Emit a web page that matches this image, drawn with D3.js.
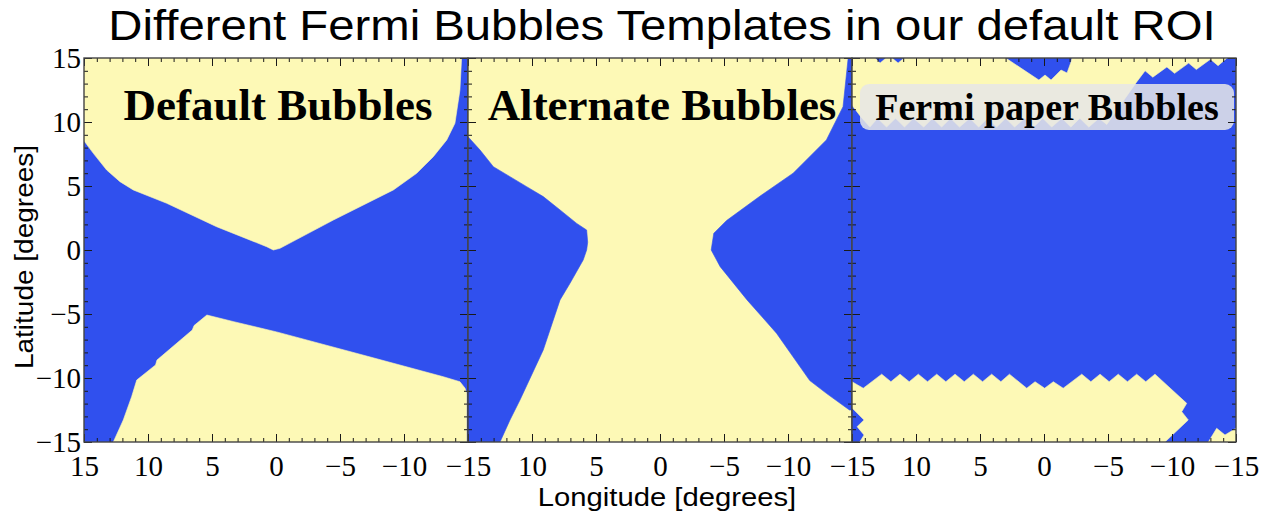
<!DOCTYPE html>
<html>
<head>
<meta charset="utf-8">
<script src="https://cdn.jsdelivr.net/npm/d3@7"></script>
<style>
  html, body { margin: 0; padding: 0; background: #ffffff; }
  svg { display: block; }
</style>
</head>
<body>
<svg id="chart" width="1278" height="518"></svg>
<script>
// ---------- data (degrees: [longitude, latitude]) ----------
const chartTitle = "Different Fermi Bubbles Templates in our default ROI";
const xAxisTitle = "Longitude [degrees]";
const yAxisTitle = "Latitude [degrees]";
const panelNames = ["Default Bubbles", "Alternate Bubbles", "Fermi paper Bubbles"];
const lonTicks = [15, 10, 5, 0, -5, -10, -15];
const latTicks = [-15, -10, -5, 0, 5, 10, 15];
const minorTicks = d3.range(-15, 16, 1);

// Panel 1 (Default): yellow regions on blue
const defaultNorth = [
  [15, 15], [15.05, 8.6], [14.27, 7.55], [13.23, 6.25], [12.19, 5.34], [11.15, 4.69],
  [8.54, 3.65], [4.64, 1.82], [0.73, 0.26], [0.21, 0], [-0.31, 0.13], [-4.48, 2.34],
  [-9.17, 4.69], [-10.99, 5.99], [-12.29, 7.29], [-13.34, 8.6], [-13.98, 9.9],
  [-14.37, 12.5], [-14.5, 15]
];
const defaultSouth = [
  [12.71, -15], [11.93, -13.28], [11.28, -11.46], [10.88, -10.16], [9.41, -8.98],
  [9.3, -8.6], [6.54, -6.25], [6.4, -5.9], [5.4, -5.08], [3.3, -5.6], [-0.05, -6.4],
  [-7.14, -8.3], [-13.07, -9.9], [-14.37, -10.29], [-14.77, -10.8], [-14.9, -11.2],
  [-14.9, -15]
];
// Panel 2 (Alternate): blue regions on yellow
const alternateEast = [
  [15, 8.85], [14.06, 7.81], [13.02, 6.51], [11.72, 5.73], [10.42, 4.95], [9.12, 4.17],
  [7.81, 3.13], [6.51, 2.08], [5.73, 1.56], [5.65, 0.6], [5.73, 0], [6.0, -0.78],
  [7.03, -2.6], [7.81, -3.9], [9.12, -7.81], [10.94, -11.72], [11.72, -13.28],
  [12.5, -15], [15, -15]
];
const alternateWest = [
  [-14.7, 15], [-14.3, 11.2], [-13.0, 8.6], [-10.4, 6.0], [-7.8, 4.2], [-5.2, 2.3],
  [-4.2, 1.3], [-4.0, 0], [-4.7, -1.3], [-6.8, -3.9], [-9.1, -6.5], [-11.7, -10.2],
  [-13.0, -11.2], [-14.8, -12.5], [-15, -12.5], [-15, 15]
];
// Panel 3 (Fermi paper): yellow regions on blue
const fermiNorth = [
  [15, 15], [13.2, 15], [12.81, 14.6], [12.34, 15], [11.87, 15], [11.4, 14.6], [10.93, 15],
  [2.99, 15], [0.4, 13.28], [-0.08, 13.67], [-0.55, 13.28], [-1.33, 14.06],
  [-1.8, 13.83], [-2.11, 14.69], [-2.19, 15],
  [-14.3, 15], [-13.6, 14.4], [-13.0, 14.9], [-11.9, 14.1], [-11.3, 14.6],
  [-10.2, 13.8], [-9.6, 14.3], [-8.5, 13.5], [-7.9, 14.0], [-7.24, 13.13],
  [-4.9, 9.8], [-4.3, 10.3], [-3.5, 9.6], [-2.8, 10.3], [-2.1, 9.6], [-1.4, 10.3],
  [-0.6, 9.6], [0.1, 10.3], [0.8, 9.6], [1.5, 10.3], [2.3, 9.6], [3.0, 10.3],
  [3.7, 9.6], [4.4, 10.3], [5.1, 9.6], [5.8, 10.3], [6.6, 9.6], [7.3, 10.3],
  [8.0, 9.6], [8.7, 10.3], [9.4, 9.6], [10.2, 10.3], [10.9, 9.6], [11.6, 10.3],
  [12.3, 9.6], [13.0, 10.3], [13.6, 9.6], [14.3, 10.4], [15, 11.3]
];
const fermiSouth = [
  [14.4, -15], [14.06, -14.45], [14.6, -13.8], [14.06, -13.28], [15, -12.34],
  [15, -10.29], [14.12, -10.8], [12.68, -9.7], [11.96, -10.29], [11.25, -9.7],
  [10.53, -10.29], [9.82, -9.7], [9.1, -10.29], [8.38, -9.7], [7.67, -10.29],
  [6.95, -9.7], [6.23, -10.29], [5.52, -9.7], [4.8, -10.29], [4.09, -9.7],
  [3.37, -10.29], [2.7, -9.7], [1.35, -10.8], [0.7, -10.29], [-0.05, -10.8],
  [-0.73, -10.29], [-1.5, -10.8], [-2.95, -9.7], [-3.66, -10.29], [-4.38, -9.7],
  [-5.09, -10.29], [-5.8, -9.7], [-6.52, -10.29], [-7.24, -9.7], [-7.95, -10.29],
  [-8.67, -9.7], [-11.15, -11.98], [-10.76, -12.63], [-11.27, -13.28], [-9.45, -15]
];
const fermiSouthCorner = [
  [-12.84, -15], [-13.49, -13.93], [-14.14, -14.45], [-15, -13.93], [-15, -15]
];

// ---------- styling ----------
const BLUE = "#3050ee";
const YELLOW = "#fdf9b6";
const panelW = 384, panelH = 384;
const panelTop = 58;
const lefts = [84, 468, 852];
const SANS = "'Liberation Sans', Arial, Helvetica, sans-serif";
const SERIF = "'Liberation Serif', 'Times New Roman', serif";

const panels = [
  { name: panelNames[0], bg: BLUE, regions: [{ pts: defaultNorth, fill: YELLOW }, { pts: defaultSouth, fill: YELLOW }], size: 45, box: false },
  { name: panelNames[1], bg: YELLOW, regions: [{ pts: alternateEast, fill: BLUE }, { pts: alternateWest, fill: BLUE }], size: 45, box: false },
  { name: panelNames[2], bg: BLUE, regions: [{ pts: fermiNorth, fill: YELLOW }, { pts: fermiSouth, fill: YELLOW }, { pts: fermiSouthCorner, fill: YELLOW }], size: 38, box: true }
];

const svg = d3.select("#chart");
const fmt = d => d < 0 ? "\u2212" + Math.abs(d) : String(d);

// Title (reference text is slightly wide-set)
svg.append("text")
  .attr("transform", "translate(662,40) scale(1.1,1)")
  .attr("text-anchor", "middle")
  .style("font-family", SANS)
  .style("font-size", "43px")
  .attr("fill", "#000")
  .text(chartTitle);

// Axis titles
svg.append("text")
  .attr("transform", "translate(667,506) scale(1.17,1)")
  .attr("text-anchor", "middle")
  .style("font-family", SANS)
  .style("font-size", "25px")
  .text(xAxisTitle);

svg.append("text")
  .attr("transform", "translate(33,257) rotate(-90) scale(1.12,1)")
  .attr("text-anchor", "middle")
  .style("font-family", SANS)
  .style("font-size", "25px")
  .text(yAxisTitle);

const defs = svg.append("defs");

panels.forEach((p, i) => {
  const x0 = lefts[i];
  const x = d3.scaleLinear().domain([15, -15]).range([x0, x0 + panelW]);
  const y = d3.scaleLinear().domain([-15, 15]).range([panelTop + panelH, panelTop]);

  defs.append("clipPath").attr("id", "clip" + i)
    .append("rect").attr("x", x0).attr("y", panelTop).attr("width", panelW).attr("height", panelH);

  const g = svg.append("g");
  const inner = g.append("g").attr("clip-path", `url(#clip${i})`);
  inner.append("rect")
    .attr("x", x(15)).attr("y", y(15))
    .attr("width", x(-15) - x(15)).attr("height", y(-15) - y(15))
    .attr("fill", p.bg);

  const line = d3.line().x(d => x(d[0])).y(d => y(d[1])).curve(d3.curveLinearClosed);
  p.regions.forEach(r => {
    inner.append("path").attr("d", line(r.pts)).attr("fill", r.fill).attr("stroke", r.fill).attr("stroke-width", 0.6);
  });

  // label
  if (p.box) {
    inner.append("rect")
      .attr("x", x0 + 8).attr("y", 84)
      .attr("width", 374).attr("height", 46)
      .attr("rx", 9).attr("ry", 9)
      .attr("fill", "#e6e6e6").attr("fill-opacity", 0.86);
  }
  inner.append("text")
    .attr("x", x0 + panelW / 2 + (p.box ? 3 : 2))
    .attr("y", 120)
    .attr("text-anchor", "middle")
    .style("font-family", SERIF)
    .style("font-weight", "bold")
    .style("font-size", p.size + "px")
    .attr("fill", "#000")
    .text(p.name);

  // ticks (inward on all sides)
  const tickStyle = sel => {
    sel.select(".domain").remove();
    sel.selectAll("line").attr("stroke", "#1a1a1a").attr("stroke-width", 1);
  };
  // minor
  g.append("g").attr("transform", `translate(0,${y(-15)})`)
    .call(d3.axisBottom(x).tickValues(minorTicks).tickSize(-4).tickFormat("")).call(tickStyle);
  g.append("g").attr("transform", `translate(0,${y(15)})`)
    .call(d3.axisTop(x).tickValues(minorTicks).tickSize(-4).tickFormat("")).call(tickStyle);
  g.append("g").attr("transform", `translate(${x(15)},0)`)
    .call(d3.axisLeft(y).tickValues(minorTicks).tickSize(-4).tickFormat("")).call(tickStyle);
  g.append("g").attr("transform", `translate(${x(-15)},0)`)
    .call(d3.axisRight(y).tickValues(minorTicks).tickSize(-4).tickFormat("")).call(tickStyle);
  // major with labels
  const bottomVals = i === 0 ? lonTicks : lonTicks.filter(v => v !== 15);
  const bAx = g.append("g").attr("transform", `translate(0,${y(-15)})`)
    .call(d3.axisBottom(x).tickValues(lonTicks).tickSize(-8).tickPadding(13)
      .tickFormat(d => bottomVals.includes(d) ? fmt(d) : ""));
  bAx.call(tickStyle);
  bAx.selectAll("text")
    .style("font-family", SERIF)
    .style("font-size", "29px").attr("fill", "#000");
  g.append("g").attr("transform", `translate(0,${y(15)})`)
    .call(d3.axisTop(x).tickValues(lonTicks).tickSize(-8).tickFormat("")).call(tickStyle);
  const lAx = g.append("g").attr("transform", `translate(${x(15)},0)`)
    .call(d3.axisLeft(y).tickValues(latTicks).tickSize(-8).tickPadding(3)
      .tickFormat(d => i === 0 ? fmt(d) : ""));
  lAx.call(tickStyle);
  lAx.selectAll("text")
    .style("font-family", SERIF)
    .style("font-size", "29px").attr("fill", "#000");
  g.append("g").attr("transform", `translate(${x(-15)},0)`)
    .call(d3.axisRight(y).tickValues(latTicks).tickSize(-8).tickFormat("")).call(tickStyle);

  // frame
  g.append("rect")
    .attr("x", x0).attr("y", panelTop).attr("width", panelW).attr("height", panelH)
    .attr("fill", "none").attr("stroke", "#444").attr("stroke-width", 1.4);
});
</script>
</body>
</html>
